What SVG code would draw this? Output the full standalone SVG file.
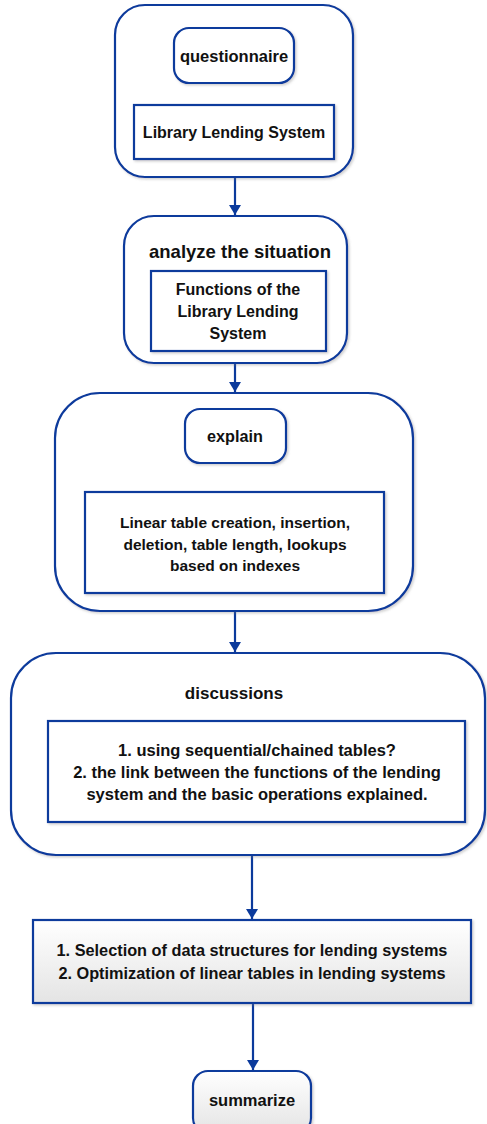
<svg xmlns="http://www.w3.org/2000/svg" width="487" height="1124" viewBox="0 0 487 1124">
  <defs>
    <style>
      .frame { fill: #ffffff; stroke: #0b3a9c; stroke-width: 2.2; filter: url(#shade); }
      .box { fill: #ffffff; stroke: #0b3a9c; stroke-width: 2.2; filter: url(#shade); }
      .grad { fill: url(#softGrey); stroke: #0b3a9c; stroke-width: 2.2; filter: url(#shade); }
      .t { font-family: "Liberation Sans", Arial, sans-serif; font-weight: bold; fill: #111111; text-anchor: middle; dominant-baseline: central; }
      .link { stroke: #0b3a9c; stroke-width: 2.2; fill: none; marker-end: url(#arrow); }
    </style>
    <linearGradient id="softGrey" x1="0" y1="0" x2="0" y2="1">
      <stop offset="0" stop-color="#ffffff"/>
      <stop offset="1" stop-color="#e4e4e4"/>
    </linearGradient>
    <filter id="shade" x="-10%" y="-10%" width="120%" height="130%">
      <feDropShadow dx="1.5" dy="1.5" stdDeviation="1" flood-color="#7a7a7a" flood-opacity="0.35"/>
    </filter>
    <marker id="arrow" viewBox="0 0 10 12" refX="10" refY="6" markerWidth="10" markerHeight="12" markerUnits="userSpaceOnUse" orient="auto">
      <path d="M0,0 L10,6 L0,12 Z" fill="#0b3a9c"/>
    </marker>
  </defs>

  <!-- connectors -->
  <g id="connectors">
    <line class="link" x1="235" y1="177" x2="235" y2="215"/>
    <line class="link" x1="235" y1="363" x2="235" y2="392"/>
    <line class="link" x1="235" y1="611" x2="235" y2="652"/>
    <line class="link" x1="252" y1="855" x2="252" y2="919"/>
    <line class="link" x1="253" y1="1003" x2="253" y2="1070"/>
  </g>

  <!-- step 1 -->
  <g id="questionnaire-group">
    <rect class="frame" x="115" y="5" width="238" height="172" rx="30"/>
    <rect class="box" x="174" y="28" width="120" height="55" rx="15"/>
    <text class="t" x="234" y="56" font-size="16.5">questionnaire</text>
    <rect class="box" x="134" y="105" width="200" height="54"/>
    <text class="t" x="234" y="132" font-size="16">Library Lending System</text>
  </g>

  <!-- step 2 -->
  <g id="analyze-group">
    <rect class="frame" x="124" y="216" width="223" height="147" rx="30"/>
    <text class="t" x="240" y="251" font-size="18.5">analyze the situation</text>
    <rect class="box" x="151" y="271" width="175" height="80"/>
    <text class="t" x="238" y="289" font-size="16">Functions of the</text>
    <text class="t" x="238" y="311" font-size="16">Library Lending</text>
    <text class="t" x="238" y="333" font-size="16">System</text>
  </g>

  <!-- step 3 -->
  <g id="explain-group">
    <rect class="frame" x="55" y="393" width="358" height="218" rx="45"/>
    <rect class="box" x="185" y="409" width="101" height="54" rx="15"/>
    <text class="t" x="235" y="436" font-size="16.2">explain</text>
    <rect class="box" x="85" y="492" width="299" height="101"/>
    <text class="t" x="235" y="522" font-size="15.5">Linear table creation, insertion,</text>
    <text class="t" x="235" y="544" font-size="15.5">deletion, table length, lookups</text>
    <text class="t" x="235" y="565" font-size="15.5">based on indexes</text>
  </g>

  <!-- step 4 -->
  <g id="discussions-group">
    <rect class="frame" x="11" y="653" width="474" height="202" rx="45"/>
    <text class="t" x="234" y="693" font-size="17">discussions</text>
    <rect class="box" x="48" y="721" width="417" height="101"/>
    <text class="t" x="257" y="750" font-size="16.5">1. using sequential/chained tables?</text>
    <text class="t" x="257" y="772" font-size="16.5">2. the link between the functions of the lending</text>
    <text class="t" x="257" y="794" font-size="16.5">system and the basic operations explained.</text>
  </g>

  <!-- step 5 -->
  <g id="optimization-node">
    <rect class="grad" x="33" y="920" width="438" height="83"/>
    <text class="t" x="252" y="950" font-size="16.3">1. Selection of data structures for lending systems</text>
    <text class="t" x="252" y="973" font-size="16.3">2. Optimization of linear tables in lending systems</text>
  </g>

  <!-- step 6 -->
  <g id="summarize-node">
    <rect class="grad" x="193" y="1071" width="118" height="62" rx="15"/>
    <text class="t" x="252" y="1100" font-size="16.5">summarize</text>
  </g>
</svg>
